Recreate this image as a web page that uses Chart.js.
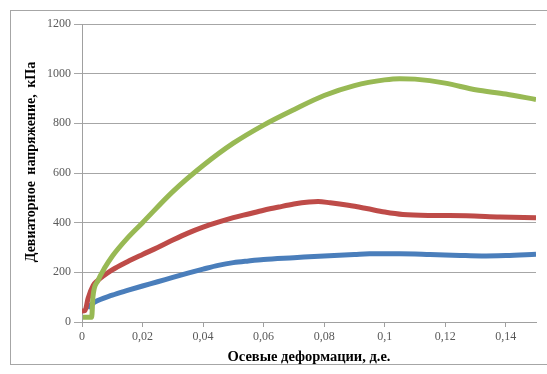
<!DOCTYPE html>
<html>
<head>
<meta charset="utf-8">
<script src="https://cdn.jsdelivr.net/npm/chart.js@4"></script>
<style>
    html, body { margin: 0; padding: 0; background: #fff; }
    #wrap { position: relative; width: 547px; height: 374px; overflow: hidden; }
    #frame { position: absolute; left: 10px; top: 10px; width: 600px; height: 353px; border: 1px solid #a6a6a6; }
    canvas { position: absolute; left: 0; top: 0; }
</style>
</head>
<body>
<div id="wrap">
    <div id="frame"></div>
    <canvas id="chart" width="547" height="374"></canvas>
</div>
<script>
// Данные (осевая деформация, д.е. -> девиаторное напряжение, кПа)
const strainBlue = [0.0018, 0.0042, 0.01, 0.015, 0.02, 0.025, 0.03, 0.035, 0.04, 0.045, 0.05, 0.055, 0.06, 0.07, 0.08, 0.09, 0.095, 0.105, 0.115, 0.125, 0.132, 0.14, 0.15];
const stressBlue = [57, 80, 108, 127, 145, 162, 180, 197, 213, 228, 239, 246, 252, 259, 266, 272, 275, 275, 272, 268, 266, 268, 273];

const strainRed = [0, 0.001, 0.002, 0.0037, 0.005, 0.01, 0.015, 0.02, 0.025, 0.03, 0.035, 0.04, 0.045, 0.05, 0.055, 0.06, 0.065, 0.07, 0.075, 0.078, 0.082, 0.088, 0.094, 0.1, 0.106, 0.116, 0.127, 0.138, 0.15];
const stressRed = [44, 46, 95, 147, 165, 210, 243, 272, 300, 330, 358, 382, 402, 420, 435, 450, 463, 475, 483, 485, 480, 470, 457, 443, 433, 429, 428, 423, 420];

const strainGreen = [0.0003, 0.0032, 0.0036, 0.0053, 0.0075, 0.01, 0.015, 0.02, 0.03, 0.04, 0.05, 0.06, 0.07, 0.08, 0.09, 0.1, 0.105, 0.11, 0.12, 0.13, 0.14, 0.15];
const stressGreen = [19, 19, 100, 167, 218, 265, 338, 400, 525, 630, 720, 793, 855, 912, 952, 975, 980, 978, 962, 935, 918, 896];

const xTickValues = [0, 0.02, 0.04, 0.06, 0.08, 0.1, 0.12, 0.14];

const xTitle = 'Осевые деформации, д.е.';
const yTitle = 'Девиаторное напряжение, кПа';

// Собираем точки {x, y}
function toPoints(xs, ys) {
    return xs.map((x, i) => ({ x: x, y: ys[i] }));
}

function makeSeries(xs, ys, color, order) {
    return {
        data: toPoints(xs, ys),
        borderColor: color,
        backgroundColor: color,
        borderWidth: 5,
        pointRadius: 0,
        cubicInterpolationMode: 'monotone',
        fill: false,
        order: order
    };
}

// Подпись оси Y рисуем сами, чтобы поставить её как в оригинале
const yTitlePlugin = {
    id: 'yTitle',
    afterDraw(chart) {
        const c = chart.ctx;
        c.save();
        c.translate(31, 162);
        c.rotate(-Math.PI / 2);
        c.font = 'bold 14px "Liberation Serif"';
        if ('wordSpacing' in c) c.wordSpacing = '3px';
        c.fillStyle = '#000';
        c.textAlign = 'center';
        c.textBaseline = 'middle';
        c.fillText(yTitle, 0, 0);
        c.restore();
    }
};

const tickFont = { family: 'Liberation Serif', size: 12 };

const ctx = document.getElementById('chart').getContext('2d');
new Chart(ctx, {
    type: 'line',
    data: {
        datasets: [
            makeSeries(strainBlue, stressBlue, '#4a7ebb', 2),
            makeSeries(strainRed, stressRed, '#be4b48', 1),
            makeSeries(strainGreen, stressGreen, '#98b954', 0)
        ]
    },
    plugins: [yTitlePlugin],
    options: {
        responsive: false,
        animation: false,
        layout: {
            padding: { left: 10, top: 24, right: 11, bottom: 0 }
        },
        plugins: {
            legend: { display: false },
            tooltip: { enabled: false }
        },
        scales: {
            x: {
                type: 'linear',
                min: 0,
                max: 0.15,
                afterFit: s => { s.height = 52; },
                afterBuildTicks: s => {
                    s.ticks = xTickValues.map(v => ({ value: v }));
                },
                ticks: {
                    color: '#595959',
                    font: tickFont,
                    padding: 3,
                    maxRotation: 0,
                    autoSkip: false,
                    callback: v => String(Math.round(v * 100) / 100).replace('.', ',')
                },
                grid: {
                    drawOnChartArea: false,
                    drawTicks: true,
                    tickLength: 5,
                    color: '#a0a0a0'
                },
                border: { color: '#a0a0a0' },
                title: {
                    display: true,
                    text: xTitle,
                    color: '#000',
                    font: { family: 'Liberation Serif', size: 14.5, weight: 'bold' },
                    padding: { top: 0, bottom: 8 }
                }
            },
            y: {
                min: 0,
                max: 1200,
                afterFit: s => { s.width = 72; },
                ticks: {
                    stepSize: 200,
                    color: '#595959',
                    font: tickFont,
                    padding: 3,
                    callback: v => String(v)
                },
                grid: {
                    color: '#a6a6a6',
                    tickLength: 8
                },
                border: { color: '#a0a0a0' }
            }
        }
    }
});
</script>
</body>
</html>
